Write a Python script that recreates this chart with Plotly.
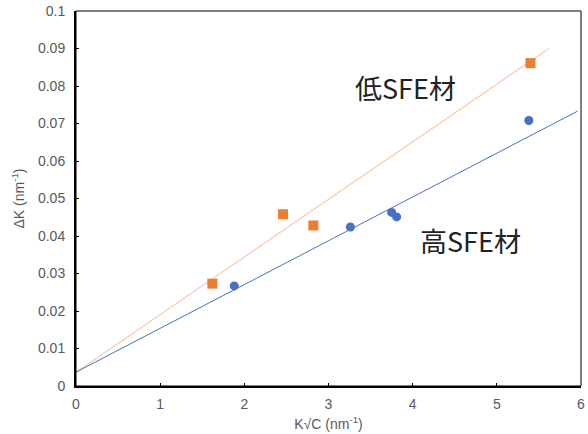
import plotly.graph_objects as go

# High SFE material (blue circles)
high_x = [1.88, 3.26, 3.75, 3.81, 5.38]
high_y = [0.0267, 0.0424, 0.0463, 0.0451, 0.0708]
# Low SFE material (orange squares)
low_x = [1.62, 2.46, 2.82, 5.40]
low_y = [0.0273, 0.0458, 0.0428, 0.0861]
# Trend lines (endpoints)
high_trend_x = [0, 5.96]
high_trend_y = [0.0037, 0.0733]
low_trend_x = [0, 5.62]
low_trend_y = [0.0037, 0.0900]

x_ticks = [0, 1, 2, 3, 4, 5, 6]
y_ticks = [0, 0.01, 0.02, 0.03, 0.04, 0.05, 0.06, 0.07, 0.08, 0.09, 0.1]
y_tick_text = ["0", "0.01", "0.02", "0.03", "0.04", "0.05", "0.06", "0.07", "0.08", "0.09", "0.1"]

fig = go.Figure()
fig.add_trace(go.Scatter(x=low_trend_x, y=low_trend_y, mode="lines",
                         line=dict(color="#F8CBAD", width=1.2), showlegend=False, hoverinfo="skip"))
fig.add_trace(go.Scatter(x=high_trend_x, y=high_trend_y, mode="lines",
                         line=dict(color="#4472C4", width=1), showlegend=False, hoverinfo="skip"))
fig.add_trace(go.Scatter(x=high_x, y=high_y, mode="markers",
                         marker=dict(symbol="circle", size=9, color="#4472C4"), showlegend=False))
fig.add_trace(go.Scatter(x=low_x, y=low_y, mode="markers",
                         marker=dict(symbol="square", size=10, color="#ED7D31"), showlegend=False))

fig.add_annotation(x=3.91, y=0.0797, text="低SFE材", showarrow=False,
                   font=dict(family="Noto Sans CJK JP", size=27, color="#222222"))
fig.add_annotation(x=4.69, y=0.0389, text="高SFE材", showarrow=False,
                   font=dict(family="Noto Sans CJK JP", size=27, color="#222222"))

axis_font = dict(family="Liberation Sans, Arial", size=14, color="#595959")
fig.update_xaxes(range=[0, 6], tickvals=x_ticks, showgrid=False, zeroline=False,
                 showline=True, linecolor="black", linewidth=2,
                 ticks="inside", ticklen=3, tickcolor="black",
                 tickfont=axis_font, ticklabelstandoff=4,
                 title=dict(text="K√C (nm<sup>-1</sup>)", font=axis_font, standoff=8))
fig.update_yaxes(range=[0, 0.1], tickvals=y_ticks, ticktext=y_tick_text, showgrid=False, zeroline=False,
                 showline=True, linecolor="black", linewidth=2,
                 ticks="inside", ticklen=3, tickcolor="black",
                 tickfont=axis_font, ticklabelstandoff=6,
                 title=dict(text="ΔK (nm<sup>-1</sup>)", font=axis_font, standoff=10))
fig.add_shape(type="rect", xref="paper", yref="paper", x0=0, y0=0, x1=1, y1=1,
              line=dict(color="black", width=1))

fig.update_layout(width=588, height=434, margin=dict(l=76, r=7, t=11, b=48, autoexpand=False),
                  plot_bgcolor="white", paper_bgcolor="white")
fig.write_html("out.html", config={"displayModeBar": False},
               post_script="document.body.style.margin='0';")
